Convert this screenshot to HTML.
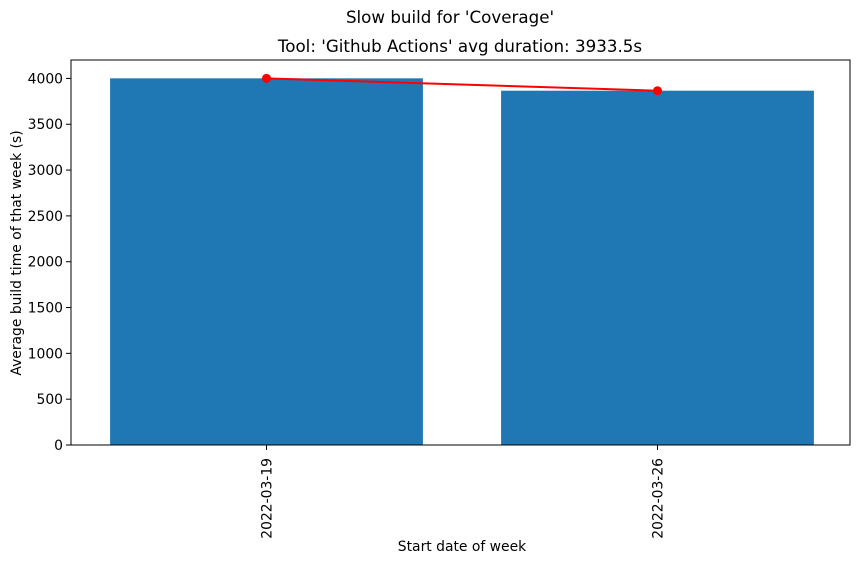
<!DOCTYPE html>
<html><head><meta charset="utf-8"><style>
body{margin:0;background:#fff;font-family:"Liberation Sans","DejaVu Sans",sans-serif}
text{font-family:"DejaVu Sans","Liberation Sans",sans-serif;fill:#000}
</style></head><body>
<svg id="chart" width="859" height="564" xmlns="http://www.w3.org/2000/svg">
<text x="450" y="23" font-size="16.7" text-anchor="middle">Slow build for 'Coverage'</text>
<text x="460" y="52" font-size="16.7" text-anchor="middle">Tool: 'Github Actions' avg duration: 3933.5s</text>
<g id="plot"></g>
<text x="462" y="551" font-size="13.9" text-anchor="middle">Start date of week</text>
<text transform="translate(21,253) rotate(-90)" font-size="13.9" text-anchor="middle">Average build time of that week (s)</text>
</svg>
<script>
const categories = ["2022-03-19", "2022-03-26"];
const values = [4001, 3866];
const yTicks = [0, 500, 1000, 1500, 2000, 2500, 3000, 3500, 4000];

const L = 71, R = 853, FR = 850, T = 60, B = 445;
const yMax = Math.max(...values) * 1.05;
const xMin = -0.5, xMax = categories.length - 0.5;
const xs = v => L + (v - xMin) / (xMax - xMin) * (R - L);
const ys = v => B - v / yMax * (B - T);
const NS = "http://www.w3.org/2000/svg";
const g = document.getElementById("plot");
function mk(tag, attrs, parent) {
  const e = document.createElementNS(NS, tag);
  for (const k in attrs) e.setAttribute(k, attrs[k]);
  (parent || g).appendChild(e);
  return e;
}
values.forEach((v, i) => {
  const r = mk("rect", {x: xs(i - 0.4), y: ys(v), width: xs(i + 0.4) - xs(i - 0.4), height: B - ys(v), fill: "#1f77b4"});
  
  
});
const line = mk("polyline", {points: values.map((v, i) => xs(i) + "," + ys(v)).join(" "), fill: "none", stroke: "red", "stroke-width": 2});


values.forEach((v, i) => {
  const c = mk("circle", {cx: xs(i), cy: ys(v), r: 4.5, fill: "red"});
  
  
});
const frame = mk("rect", {x: L, y: T, width: FR - L, height: B - T, fill: "none", stroke: "#000", "stroke-width": 1});


yTicks.forEach(t => {
  const y = ys(t);
  mk("line", {x1: L - 5, x2: L, y1: y, y2: y, stroke: "#000", "stroke-width": 1});
  const tx = mk("text", {x: L - 8, y: y + 5, "font-size": 13.9, "text-anchor": "end"});
  tx.textContent = t;
  
  
});
categories.forEach((c, i) => {
  const x = xs(i);
  mk("line", {x1: x, x2: x, y1: B, y2: B + 5, stroke: "#000", "stroke-width": 1});
  const tx = mk("text", {transform: "translate(" + (x + 5) + "," + (B + 13) + ") rotate(-90)", "font-size": 13.9, "text-anchor": "end"});
  tx.textContent = c;
  
  
});
</script>
</body></html>
